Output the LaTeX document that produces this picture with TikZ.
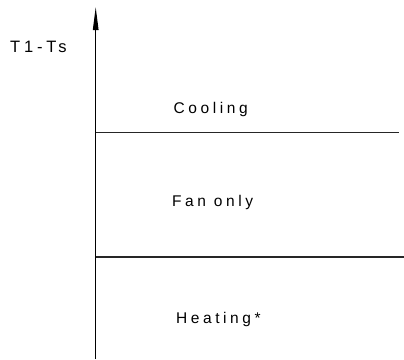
\documentclass[tikz,border=0pt]{standalone}
\usepackage{fontspec}
\setmainfont{Liberation Sans}
\newfontfamily\spaced[LetterSpace=23]{Liberation Sans}
\usetikzlibrary{arrows.meta}
\begin{document}
\begin{tikzpicture}[x=1pt,y=-1pt,
  lbl/.style={anchor=base west,inner sep=0pt,font=\spaced\fontsize{15.5}{18}\selectfont},
  axislbl/.style={anchor=base west,inner sep=0pt,font=\spaced\fontsize{16.5}{19}\selectfont},
  rule/.style={line width=1.2pt,draw=black!85}]
\useasboundingbox (0,0) rectangle (404,359);
\coordinate (ax0) at (95.7,359);
\coordinate (ax1) at (95.7,7);
\coordinate (c0) at (95.7,132.5);
\coordinate (c1) at (399,132.5);
\coordinate (h0) at (95.7,257);
\coordinate (h1) at (404,257);
\draw[line width=1.2pt,-{Triangle[length=23pt,width=5.5pt]}] (ax0) -- (ax1);
\draw[rule] (c0) -- (c1);
\draw[rule] (h0) -- (h1);
\node[axislbl] (ylab) at (10,52.5) {T1-Ts};
\node[lbl] (cool) at (173.5,113) {Cooling};
\node[lbl] (fan) at (172,206.7) {Fan only};
\node[lbl] (heat) at (176,323) {Heating*};
\end{tikzpicture}
\end{document}
